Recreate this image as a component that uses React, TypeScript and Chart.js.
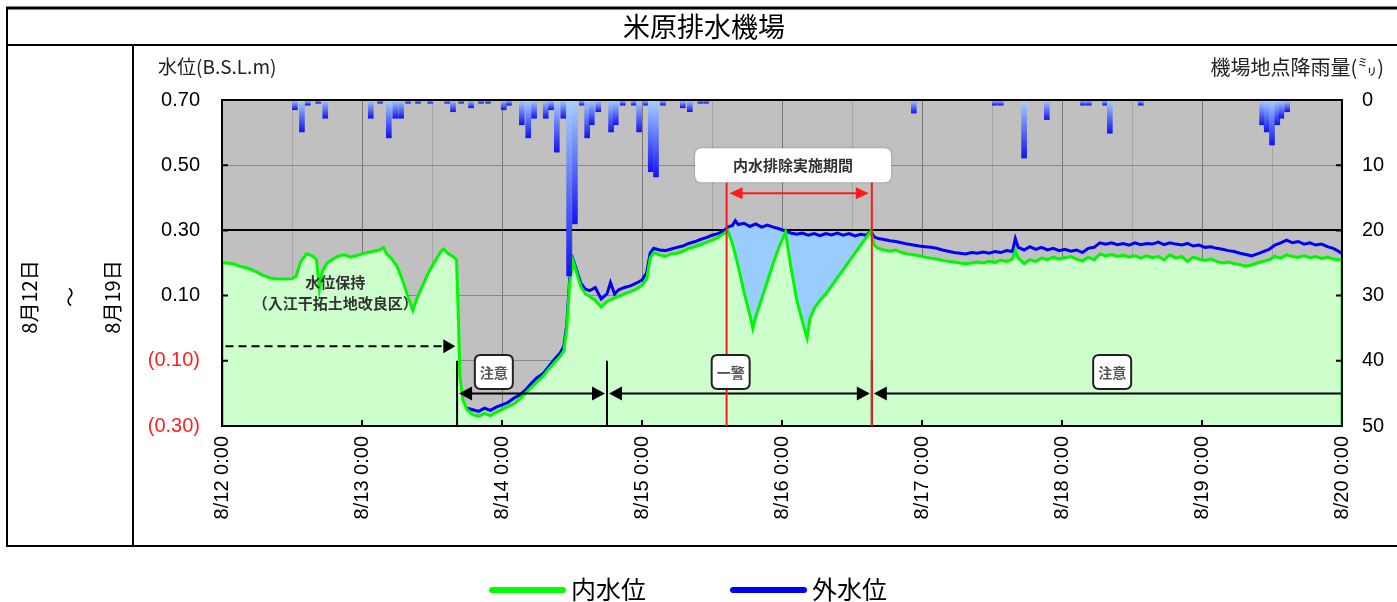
import React, { useEffect, useRef } from 'react';
import { Chart, registerables } from 'chart.js';

Chart.register(...registerables);

// ---- data (hours from 8/12 0:00) ----
const innerHours = [
  0, 0, 1, 2, 3, 4, 5, 6, 7, 8, 9, 10, 11, 12, 12.7, 13.5, 14.5, 15.5, 16.2, 16.7, 17.2, 18, 19, 20, 21, 22, 23, 24,
  25, 26, 27, 27.7, 28.2, 29, 30, 31, 32, 32.7, 33.5, 34.5, 35.5, 36.5, 37.5, 38, 38.8, 39.6, 40.2, 40.5, 40.8, 41.3,
  42, 43, 44, 45, 46, 47, 48, 49, 50, 51, 52, 53, 54, 55, 56, 57, 58, 58.6, 59.1, 59.6, 60.2, 60.8, 61.5, 62.3, 63,
  64, 65, 66, 67, 68, 69, 70, 71, 72, 72.8, 73.4, 74, 75, 76, 77, 78, 79, 80, 81, 82, 83, 84, 85, 86, 86.7, 87.5,
  88.5, 89.5, 90.5, 91, 91.5, 92.5, 93.5, 94.5, 95.5, 96.6, 97.5, 98.5, 99.5, 100.3, 100.8, 101.5, 102.5, 103.5,
  104.5, 105.5, 106.5, 107.5, 108.5, 109.5, 110.5, 111.2, 111.8, 112.5, 113.5, 114.5, 115.5, 116.5, 117.5, 118.5,
  119.5, 120.5, 121.5, 122.5, 123.5, 124.5, 125.5, 126.5, 127.5, 128.5, 129.5, 130.5, 131.5, 132.5, 133.5, 134.5,
  135.5, 136, 136.5, 137.5, 138.5, 139.5, 140.5, 141.5, 142.5, 143.5, 144.5, 145.5, 146.5, 147.5, 148.5, 149.5,
  150.5, 151.5, 152.5, 153.5, 154.5, 155.5, 156.5, 157.5, 158.5, 159.5, 160.5, 161.5, 162.5, 163.5, 164.5, 165.5,
  166.5, 167.5, 168.5, 169.5, 170.5, 171.5, 172.5, 173.5, 174.5, 175.5, 176.5, 177.5, 178.5, 179.5, 180.5, 181.5,
  182.5, 183.5, 184.5, 185.5, 186.5, 187.5, 188.5, 189.5, 190.5, 191.5, 192, 192,
];
const innerLevel = [
  -0.3, 0.2, 0.2, 0.197, 0.19, 0.186, 0.18, 0.172, 0.163, 0.155, 0.152, 0.151, 0.151, 0.152, 0.16, 0.205, 0.228,
  0.222, 0.21, 0.12, 0.175, 0.2, 0.212, 0.222, 0.225, 0.218, 0.222, 0.228, 0.232, 0.236, 0.24, 0.247, 0.228, 0.215,
  0.19, 0.145, 0.09, 0.055, 0.095, 0.135, 0.175, 0.205, 0.235, 0.243, 0.228, 0.22, 0.21, 0.05, -0.15, -0.22, -0.25,
  -0.265, -0.27, -0.262, -0.268, -0.258, -0.25, -0.24, -0.232, -0.218, -0.2, -0.182, -0.165, -0.148, -0.125, -0.105,
  -0.085, -0.07, 0.0, 0.14, 0.205, 0.17, 0.128, 0.105, 0.098, 0.085, 0.065, 0.082, 0.09, 0.098, 0.105, 0.112, 0.12,
  0.132, 0.15, 0.215, 0.232, 0.225, 0.22, 0.228, 0.23, 0.236, 0.245, 0.25, 0.256, 0.263, 0.27, 0.278, 0.29, 0.3,
  0.26, 0.19, 0.11, 0.04, 0.0, 0.035, 0.09, 0.145, 0.2, 0.25, 0.295, 0.19, 0.09, 0.02, -0.03, 0.03, 0.06, 0.085,
  0.105, 0.13, 0.155, 0.18, 0.205, 0.23, 0.255, 0.28, 0.297, 0.255, 0.245, 0.24, 0.236, 0.24, 0.232, 0.228, 0.225,
  0.222, 0.218, 0.215, 0.212, 0.208, 0.205, 0.203, 0.2, 0.198, 0.2, 0.203, 0.2, 0.205, 0.202, 0.208, 0.205, 0.212,
  0.238, 0.215, 0.198, 0.21, 0.205, 0.215, 0.21, 0.218, 0.212, 0.216, 0.22, 0.212, 0.206, 0.218, 0.21, 0.228,
  0.222, 0.226, 0.22, 0.224, 0.218, 0.222, 0.215, 0.222, 0.216, 0.22, 0.21, 0.225, 0.215, 0.22, 0.205, 0.218, 0.212,
  0.208, 0.212, 0.205, 0.2, 0.203, 0.198, 0.195, 0.19, 0.194, 0.2, 0.205, 0.21, 0.22, 0.215, 0.225, 0.22, 0.218,
  0.222, 0.216, 0.22, 0.214, 0.218, 0.212, 0.21, 0.208, -0.3,
];

const outerHours = [
  40.6, 41.3, 42, 43, 44, 45, 46, 47, 48, 49, 50, 51, 52, 53, 54, 55, 56, 57, 58, 58.6, 59.1, 59.6, 60.2, 60.8, 61.5,
  62.3, 63, 64, 65, 66, 66.6, 67.3, 68, 69, 70, 71, 72, 72.8, 73.4, 74, 75, 76, 77, 78, 79, 80, 81, 82, 83, 84, 85,
  86, 86.7, 87.5, 88, 88.5, 89.5, 90.5, 91.5, 92.5, 93.5, 94.5, 95.5, 96.6, 97.5, 98.5, 99.5, 100.5, 101.5, 102.5,
  103.5, 104.5, 105.5, 106.5, 107.5, 108.5, 109.5, 110.5, 111.2, 111.8, 112.5, 113.5, 114.5, 115.5, 116.5, 117.5,
  118.5, 119.5, 120.5, 121.5, 122.5, 123.5, 124.5, 125.5, 126.5, 127.5, 128.5, 129.5, 130.5, 131.5, 132.5, 133.5,
  134.5, 135.5, 136, 136.5, 137.5, 138.5, 139.5, 140.5, 141.5, 142.5, 143.5, 144.5, 145.5, 146.5, 147.5, 148.5,
  149.5, 150.5, 151.5, 152.5, 153.5, 154.5, 155.5, 156.5, 157.5, 158.5, 159.5, 160.5, 161.5, 162.5, 163.5, 164.5,
  165.5, 166.5, 167.5, 168.5, 169.5, 170.5, 171.5, 172.5, 173.5, 174.5, 175.5, 176.5, 177.5, 178.5, 179.5, 180.5,
  181.5, 182.5, 183.5, 184.5, 185.5, 186.5, 187.5, 188.5, 189.5, 190.5, 191.5, 192,
];
const outerLevel = [
  -0.21, -0.235, -0.245, -0.25, -0.255, -0.245, -0.252, -0.242, -0.235, -0.228, -0.215, -0.205, -0.19, -0.17,
  -0.152, -0.14, -0.118, -0.095, -0.075, -0.055, 0.01, 0.15, 0.21, 0.178, 0.138, 0.12, 0.115, 0.125, 0.09, 0.105,
  0.14, 0.105, 0.118, 0.125, 0.13, 0.138, 0.148, 0.17, 0.23, 0.245, 0.24, 0.238, 0.243, 0.248, 0.252, 0.26, 0.265,
  0.272, 0.278, 0.285, 0.29, 0.298, 0.31, 0.315, 0.33, 0.318, 0.322, 0.312, 0.32, 0.31, 0.316, 0.31, 0.305, 0.298,
  0.292, 0.288, 0.292, 0.285, 0.29, 0.284, 0.29, 0.286, 0.292, 0.285, 0.29, 0.283, 0.288, 0.285, 0.298, 0.28, 0.275,
  0.272, 0.268, 0.266, 0.262, 0.258, 0.255, 0.252, 0.25, 0.248, 0.245, 0.24, 0.236, 0.232, 0.23, 0.228, 0.232, 0.23,
  0.234, 0.23, 0.235, 0.232, 0.238, 0.235, 0.275, 0.248, 0.24, 0.25, 0.242, 0.248, 0.24, 0.245, 0.238, 0.242, 0.236,
  0.24, 0.232, 0.245, 0.248, 0.262, 0.258, 0.262, 0.256, 0.26, 0.255, 0.262, 0.256, 0.26, 0.258, 0.264, 0.256, 0.262,
  0.258, 0.255, 0.26, 0.252, 0.255, 0.248, 0.25, 0.245, 0.242, 0.238, 0.235, 0.23, 0.226, 0.222, 0.228, 0.235, 0.242,
  0.255, 0.262, 0.27, 0.262, 0.266, 0.258, 0.262, 0.255, 0.258, 0.25, 0.245, 0.235, 0.228,
];

const rainHours = [
  12.5, 13.7, 14.7, 16.5, 17.7, 25.5, 27.1, 28.6, 29.7, 30.7, 31.9, 33.6, 35.7, 38.6, 39.6, 41.0, 42.7, 44.4, 45.6,
  48.3, 49.2, 51.4, 52.5, 53.5, 55.5, 56.4, 57.4, 58.5, 59.5, 60.5, 61.7, 62.6, 63.4, 64.5, 66.7, 67.5, 68.7, 70.6,
  71.5, 72.7, 73.5, 74.4, 75.6, 79.0, 80.2, 82.0, 83.0, 118.6, 132.5, 133.5, 137.5, 141.4, 147.6, 148.6, 151.4,
  152.2, 157.5, 178.3, 179.1, 180.0, 180.9, 181.6, 182.6,
];
const rainMm = [
  1.5, 4.9, 0.8, 0.5, 2.8, 2.8, 0.5, 5.8, 2.8, 2.8, 0.5, 0.5, 0.5, 0.5, 1.8, 0.5, 1.2, 0.5, 0.5, 1.5, 0.8, 3.8, 5.8,
  2.8, 2.8, 1.5, 8.0, 2.8, 27.0, 19.0, 0.8, 5.8, 3.8, 1.8, 4.9, 3.8, 0.8, 0.8, 4.9, 0.8, 11.0, 11.8, 0.8, 1.2, 1.8,
  0.5, 0.5, 2.0, 0.8, 0.8, 8.9, 3.0, 0.8, 0.8, 0.8, 5.1, 0.8, 3.8, 4.9, 6.9, 3.8, 2.8, 1.8,
];

const dayTickLabels = [
  '8/12 0:00', '8/13 0:00', '8/14 0:00', '8/15 0:00', '8/16 0:00', '8/17 0:00', '8/18 0:00', '8/19 0:00', '8/20 0:00',
];

const pumpWindow = [86.7, 111.2];

// annotation anchors (hours / levels)
const stageBounds = [40.3, 66.0, 111.4];
const stageBoxes = [
  { text: '注意', h: 46.6 },
  { text: '一警', h: 87.2 },
  { text: '注意', h: 152.6 },
];
const pumpLines = [86.5, 111.4];

const NUM_FONT = '"Liberation Sans", Arial, sans-serif';
const JP_FONT = '"Noto Sans CJK JP", "Noto Sans", sans-serif';

function roundRect(ctx: CanvasRenderingContext2D, x: number, y: number, w: number, h: number, r: number) {
  ctx.beginPath();
  ctx.moveTo(x + r, y);
  ctx.lineTo(x + w - r, y);
  ctx.quadraticCurveTo(x + w, y, x + w, y + r);
  ctx.lineTo(x + w, y + h - r);
  ctx.quadraticCurveTo(x + w, y + h, x + w - r, y + h);
  ctx.lineTo(x + r, y + h);
  ctx.quadraticCurveTo(x, y + h, x, y + h - r);
  ctx.lineTo(x, y + r);
  ctx.quadraticCurveTo(x, y, x + r, y);
  ctx.closePath();
}

function arrowHead(ctx: CanvasRenderingContext2D, x: number, y: number, dir: number, len: number, half: number, color: string) {
  ctx.save();
  ctx.fillStyle = color;
  ctx.beginPath();
  ctx.moveTo(x, y);
  ctx.lineTo(x - dir * len, y - half);
  ctx.lineTo(x - dir * len, y + half);
  ctx.closePath();
  ctx.fill();
  ctx.restore();
}

const decorPlugin = {
  id: 'decor',
  beforeDraw(chart: any) {
    const { ctx, chartArea: a } = chart;
    ctx.save();
    ctx.fillStyle = '#ffffff';
    ctx.fillRect(0, 0, chart.width, chart.height);
    ctx.fillStyle = '#c0c0c0';
    ctx.fillRect(a.left, a.top, a.right - a.left, a.bottom - a.top);

    // frame
    ctx.strokeStyle = '#000';
    ctx.lineWidth = 3;
    ctx.beginPath();
    ctx.moveTo(6, 8);
    ctx.lineTo(1397, 8);
    ctx.stroke();
    ctx.lineWidth = 2;
    ctx.beginPath();
    ctx.moveTo(6, 45);
    ctx.lineTo(1397, 45);
    ctx.moveTo(7, 8);
    ctx.lineTo(7, 546);
    ctx.moveTo(133, 45);
    ctx.lineTo(133, 546);
    ctx.moveTo(6, 546);
    ctx.lineTo(1397, 546);
    ctx.stroke();

    // title
    ctx.fillStyle = '#000';
    ctx.font = `27px ${JP_FONT}`;
    ctx.textAlign = 'center';
    ctx.textBaseline = 'middle';
    ctx.fillText('米原排水機場', 704, 27);

    // axis titles
    ctx.font = `19px ${JP_FONT}`;
    ctx.fillStyle = '#222';
    ctx.textAlign = 'left';
    ctx.fillText('水位(B.S.L.m)', 158, 67);
    ctx.textAlign = 'right';
    ctx.font = `20px ${JP_FONT}`;
    ctx.fillText('機場地点降雨量(㍉)', 1384, 67);

    // left period labels (rotated)
    const vt = (t: string, x: number, y: number) => {
      ctx.save();
      ctx.translate(x, y);
      ctx.rotate(-Math.PI / 2);
      ctx.textAlign = 'center';
      ctx.textBaseline = 'middle';
      ctx.fillText(t, 0, 0);
      ctx.restore();
    };
    ctx.font = `20px ${JP_FONT}`;
    ctx.fillStyle = '#000';
    vt('8月12日', 29, 297);
    vt('～', 70, 297);
    vt('8月19日', 112, 297);
    ctx.restore();
  },
  afterDatasetsDraw(chart: any) {
    const { ctx, chartArea: a, scales } = chart;
    ctx.save();
    // inward ticks
    ctx.strokeStyle = '#000';
    ctx.lineWidth = 2;
    ctx.beginPath();
    for (let i = 1; i < dayTickLabels.length - 1; i++) {
      const x = scales.x.getPixelForValue(i * 24);
      ctx.moveTo(x, a.bottom);
      ctx.lineTo(x, a.bottom - 6);
    }
    scales.y.ticks.forEach((t: any) => {
      const y = scales.y.getPixelForValue(t.value);
      ctx.moveTo(a.left, y);
      ctx.lineTo(a.left + 6, y);
      ctx.moveTo(a.right, y);
      ctx.lineTo(a.right - 6, y);
    });
    ctx.stroke();
    // plot border
    ctx.lineWidth = 2;
    ctx.strokeRect(a.left, a.top, a.right - a.left, a.bottom - a.top);
    ctx.restore();
  },
  afterDraw(chart: any) {
    const { ctx, scales, chartArea: a } = chart;
    const X = (h: number) => scales.x.getPixelForValue(h);
    const Y = (v: number) => scales.y.getPixelForValue(v);
    ctx.save();

    // water-holding note
    ctx.fillStyle = '#333';
    ctx.font = `bold 15px ${JP_FONT}`;
    ctx.textAlign = 'center';
    ctx.textBaseline = 'middle';
    ctx.fillText('水位保持', X(19.4), Y(0.14));
    ctx.fillText('（入江干拓土地改良区）', X(19.4), Y(0.077));
    ctx.strokeStyle = '#000';
    ctx.lineWidth = 2;
    ctx.setLineDash([8, 5]);
    ctx.beginPath();
    ctx.moveTo(X(0.6), Y(-0.055));
    ctx.lineTo(X(38.2), Y(-0.055));
    ctx.stroke();
    ctx.setLineDash([]);
    arrowHead(ctx, X(40.0), Y(-0.055), 1, 12, 7, '#000');

    // stage boundaries
    const arrowY = Y(-0.2);
    ctx.strokeStyle = '#000';
    ctx.lineWidth = 2;
    ctx.beginPath();
    stageBounds.forEach((h) => {
      ctx.moveTo(X(h), Y(-0.1));
      ctx.lineTo(X(h), a.bottom);
    });
    ctx.stroke();
    const segs = [
      [stageBounds[0], stageBounds[1], true],
      [stageBounds[1], stageBounds[2], true],
      [stageBounds[2], 192, false],
    ] as [number, number, boolean][];
    segs.forEach(([h0, h1, rightHead]) => {
      const x0 = X(h0) + 2;
      const x1 = rightHead ? X(h1) - 2 : X(h1);
      ctx.beginPath();
      ctx.moveTo(x0 + 6, arrowY);
      ctx.lineTo(rightHead ? x1 - 6 : x1, arrowY);
      ctx.stroke();
      arrowHead(ctx, x0, arrowY, -1, 13, 7, '#000');
      if (rightHead) arrowHead(ctx, x1, arrowY, 1, 13, 7, '#000');
    });

    // red pumping-period lines
    ctx.strokeStyle = '#ff1a1a';
    ctx.lineWidth = 2;
    ctx.beginPath();
    pumpLines.forEach((h) => {
      ctx.moveTo(X(h), Y(0.447));
      ctx.lineTo(X(h), a.bottom);
    });
    ctx.stroke();
    const ry = Y(0.414);
    const rx0 = X(pumpLines[0]) + 3;
    const rx1 = X(pumpLines[1]) - 3;
    ctx.beginPath();
    ctx.moveTo(rx0 + 8, ry);
    ctx.lineTo(rx1 - 8, ry);
    ctx.stroke();
    arrowHead(ctx, rx0, ry, -1, 13, 6, '#ff1a1a');
    arrowHead(ctx, rx1, ry, 1, 13, 6, '#ff1a1a');

    // pumping label box
    const bx = X(97.9);
    const by = Y(0.5);
    ctx.save();
    ctx.shadowColor = 'rgba(0,0,0,0.25)';
    ctx.shadowBlur = 3;
    ctx.fillStyle = '#ffffff';
    roundRect(ctx, bx - 98, by - 17, 196, 34, 7);
    ctx.fill();
    ctx.restore();
    ctx.fillStyle = '#333';
    ctx.font = `bold 15px ${JP_FONT}`;
    ctx.textAlign = 'center';
    ctx.textBaseline = 'middle';
    ctx.fillText('内水排除実施期間', bx, by);

    // stage label boxes
    stageBoxes.forEach((b) => {
      const cx = X(b.h);
      const cy = Y(-0.134);
      ctx.fillStyle = '#ffffff';
      ctx.strokeStyle = '#222';
      ctx.lineWidth = 2;
      roundRect(ctx, cx - 19, cy - 17, 38, 34, 6);
      ctx.fill();
      ctx.stroke();
      ctx.fillStyle = '#555';
      ctx.font = `bold 14px ${JP_FONT}`;
      ctx.fillText(b.text, cx, cy + 1);
    });

    // legend
    const legend = [
      { label: '内水位', color: '#00ff00', x0: 492, x1: 563 },
      { label: '外水位', color: '#0000ff', x0: 733, x1: 804 },
    ];
    legend.forEach((l) => {
      ctx.strokeStyle = l.color;
      ctx.lineWidth = 6;
      ctx.lineCap = 'round';
      ctx.beginPath();
      ctx.moveTo(l.x0, 590);
      ctx.lineTo(l.x1, 590);
      ctx.stroke();
      ctx.fillStyle = '#000';
      ctx.font = `25px ${JP_FONT}`;
      ctx.textAlign = 'left';
      ctx.textBaseline = 'middle';
      ctx.fillText(l.label, l.x1 + 8, 589);
    });
    ctx.restore();
  },
};

export default function App() {
  const ref = useRef<HTMLCanvasElement | null>(null);

  useEffect(() => {
    const canvas = ref.current;
    if (!canvas) return;
    const inner = innerHours.map((h, i) => ({ x: h, y: innerLevel[i] }));
    const outer = outerHours.map((h, i) => ({ x: h, y: outerLevel[i] }));
    const pump = outer.filter((p) => p.x >= pumpWindow[0] && p.x <= pumpWindow[1]);
    const rain = rainHours.map((h, i) => ({ x: h, y: rainMm[i] }));

    const rainFill = (c: any) => {
      const chart = c.chart;
      if (c.type !== 'data' || !chart.chartArea || !chart.scales.y2) return '#4a72ff';
      const s = chart.scales.y2;
      const top = s.getPixelForValue(0);
      const bot = s.getPixelForValue(c.parsed.y);
      const g = chart.ctx.createLinearGradient(0, top, 0, Math.max(bot, top + 2));
      g.addColorStop(0, '#a8d2ff');
      g.addColorStop(1, '#1414f0');
      return g;
    };

    const chart = new Chart(canvas, {
      type: 'line',
      data: {
        datasets: [
          {
            type: 'bar',
            label: '降雨量',
            data: rain,
            yAxisID: 'y2',
            xAxisID: 'x',
            barThickness: 5,
            backgroundColor: rainFill,
            borderWidth: 0,
            order: 0,
          } as any,
          {
            label: '内水位',
            data: inner,
            yAxisID: 'y',
            borderColor: '#00f800',
            borderWidth: 3,
            pointRadius: 0,
            tension: 0,
            backgroundColor: '#ccffcc',
            fill: { target: 'start' },
            order: 1,
          },
          {
            label: '外水位',
            data: outer,
            yAxisID: 'y',
            borderColor: '#0000ff',
            borderWidth: 3,
            pointRadius: 0,
            tension: 0,
            fill: false,
            order: 2,
          },
          {
            label: 'pump',
            data: pump,
            yAxisID: 'y',
            borderWidth: 0,
            borderColor: 'rgba(0,0,0,0)',
            pointRadius: 0,
            tension: 0,
            fill: { target: 1, above: '#99ccff', below: 'rgba(0,0,0,0)' },
            order: 3,
          },
        ],
      },
      options: {
        animation: false,
        responsive: false,
        maintainAspectRatio: false,
        events: [],
        layout: { padding: { top: 100, left: 0, right: 0, bottom: 0 } },
        plugins: {
          legend: { display: false },
          tooltip: { enabled: false },
          title: { display: false },
        },
        scales: {
          x: {
            type: 'linear',
            min: 0,
            max: 192,
            offset: false,
            border: { display: false },
            grid: {
              offset: false,
              drawTicks: false,
              lineWidth: 1,
              color: (c: any) => (c.tick && c.tick.value % 24 === 0 ? '#777777' : '#a4a4a4'),
            },
            ticks: {
              stepSize: 12,
              autoSkip: false,
              minRotation: 90,
              maxRotation: 90,
              padding: 10,
              color: '#000',
              font: { family: NUM_FONT, size: 20 },
              callback: (v: any) => (Number(v) % 24 === 0 ? dayTickLabels[Number(v) / 24] : ''),
            },
            afterFit: (s: any) => {
              s.height = 176;
            },
          },
          y: {
            type: 'linear',
            position: 'left',
            min: -0.3,
            max: 0.7,
            border: { display: false },
            grid: {
              drawTicks: false,
              color: (c: any) => (c.tick && Math.abs(c.tick.value - 0.3) < 1e-6 ? '#000000' : '#8a8a8a'),
              lineWidth: (c: any) => (c.tick && Math.abs(c.tick.value - 0.3) < 1e-6 ? 2 : 1),
            },
            ticks: {
              stepSize: 0.2,
              padding: 22,
              font: { family: NUM_FONT, size: 20 },
              color: (c: any) => (c.tick && c.tick.value < 0 ? '#ff2020' : '#000'),
              callback: (v: any) => {
                const n = Number(v);
                return n < 0 ? `(${Math.abs(n).toFixed(2)})` : n.toFixed(2);
              },
            },
            afterFit: (s: any) => {
              s.width = 222;
            },
          },
          y2: {
            type: 'linear',
            position: 'right',
            reverse: true,
            min: 0,
            max: 50,
            border: { display: false },
            grid: { drawOnChartArea: false, drawTicks: false },
            ticks: {
              stepSize: 10,
              padding: 20,
              color: '#000',
              font: { family: NUM_FONT, size: 20 },
            },
            afterFit: (s: any) => {
              s.width = 55;
            },
          },
        },
      },
      plugins: [decorPlugin],
    });
    return () => chart.destroy();
  }, []);

  return (
    <div style={{ position: 'fixed', left: 0, top: 0, width: 1397, height: 602, background: '#fff' }}>
      <canvas ref={ref} width={1397} height={602} style={{ width: 1397, height: 602, display: 'block' }} />
    </div>
  );
}
